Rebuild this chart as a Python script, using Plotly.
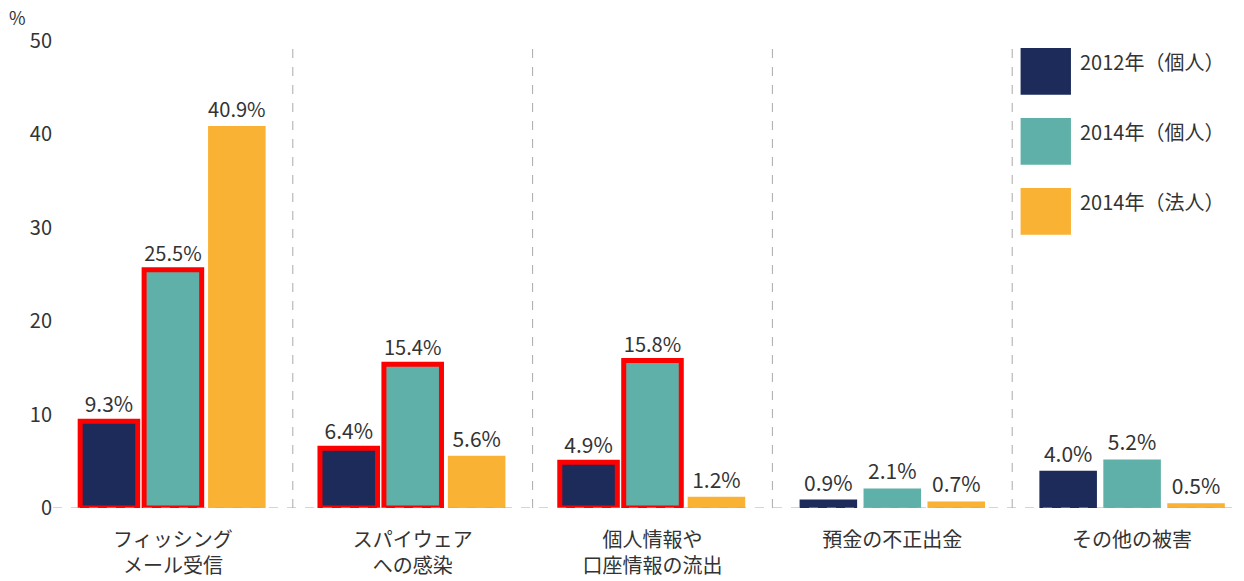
import plotly.graph_objects as go

categories = ["フィッシング<br>メール受信", "スパイウェア<br>への感染", "個人情報や<br>口座情報の流出", "預金の不正出金", "その他の被害"]
series_names = ["2012年（個人）", "2014年（個人）", "2014年（法人）"]
v2012 = [9.3, 6.4, 4.9, 0.9, 4.0]
v2014p = [25.5, 15.4, 15.8, 2.1, 5.2]
v2014c = [40.9, 5.6, 1.2, 0.7, 0.5]
highlight_2012 = [True, True, True, False, False]
highlight_2014p = [True, True, True, False, False]
colors = ["#1c2b5a", "#5fb0a8", "#f9b233"]

fig = go.Figure()
for name, vals, col, hl in [
    (series_names[0], v2012, colors[0], highlight_2012),
    (series_names[1], v2014p, colors[1], highlight_2014p),
    (series_names[2], v2014c, colors[2], [False] * 5),
]:
    fig.add_trace(go.Bar(
        x=list(range(5)), y=vals, name=name,
        marker=dict(color=col,
                    line=dict(color=["#ff0000" if h else "rgba(0,0,0,0)" for h in hl],
                              width=[5 if h else 0 for h in hl])),
        text=[f"{v}%" for v in vals], textposition="outside",
        textfont=dict(size=21, color="#333"), cliponaxis=False,
        showlegend=False,
    ))

# separators and dashed baseline
for i in range(4):
    fig.add_shape(type="line", x0=i + 0.5, x1=i + 0.5, y0=0, y1=50, xref="x", yref="y",
                  line=dict(color="#aaa", width=1, dash="dash"))
fig.add_shape(type="line", x0=-0.5, x1=4.5, y0=0, y1=0, xref="x", yref="y",
              line=dict(color="#aaa", width=1, dash="dash"))

# legend boxes
for k, (name, col) in enumerate(zip(series_names, colors)):
    y_top = 0.985 - k * 0.15
    fig.add_shape(type="rect", xref="paper", yref="paper",
                  x0=0.807, x1=0.849, y0=y_top - 0.1, y1=y_top,
                  fillcolor=col, line=dict(width=0))
    fig.add_annotation(xref="paper", yref="paper", x=0.855, y=y_top - 0.05,
                       text=name, showarrow=False, xanchor="left", yanchor="middle",
                       yshift=10, font=dict(size=20, color="#333"))

fig.add_annotation(xref="paper", yref="paper", x=-0.03, y=1.02, text="%", showarrow=False,
                   xanchor="center", yanchor="bottom", font=dict(size=18, color="#333"))

fig.update_layout(
    width=1244, height=581,
    margin=dict(l=45, r=0, t=33, b=81),
    plot_bgcolor="white", paper_bgcolor="white",
    barmode="group", bargap=0.2, bargroupgap=0.1,
    font=dict(family="Noto Sans CJK JP", size=20, color="#333"),
)
fig.update_xaxes(tickvals=list(range(5)), ticktext=categories, range=[-0.5, 4.5],
                 showgrid=False, tickfont=dict(size=20),
                 ticks="outside", ticklen=14, tickcolor="rgba(0,0,0,0)")
fig.update_yaxes(range=[0, 50], dtick=10, showgrid=False, zeroline=False,
                 tickfont=dict(size=20))

fig.write_html("out.html")
